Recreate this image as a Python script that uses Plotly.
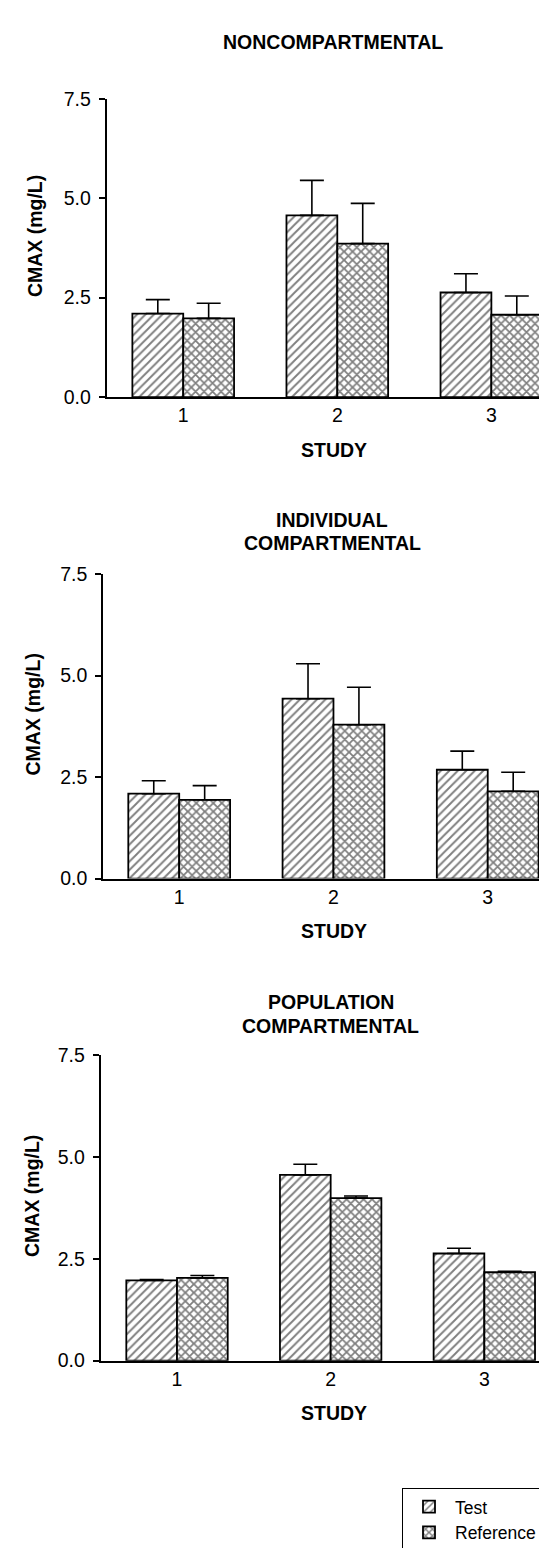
import plotly.graph_objects as go

# ---------------- data ----------------
categories = ["1", "2", "3"]
cat_pos = [1, 2, 3]
y_ticks = [0.0, 2.5, 5.0, 7.5]
y_ticktext = ["0.0", "2.5", "5.0", "7.5"]

panel_titles = [
    "NONCOMPARTMENTAL",
    "INDIVIDUAL<br>COMPARTMENTAL",
    "POPULATION<br>COMPARTMENTAL",
]

nc_test = [2.10, 4.57, 2.63]
nc_test_err = [0.35, 0.88, 0.47]
nc_ref = [1.98, 3.86, 2.07]
nc_ref_err = [0.38, 1.01, 0.47]

ic_test = [2.09, 4.43, 2.68]
ic_test_err = [0.32, 0.86, 0.46]
ic_ref = [1.94, 3.79, 2.15]
ic_ref_err = [0.35, 0.92, 0.47]

pc_test = [1.97, 4.56, 2.63]
pc_test_err = [0.02, 0.26, 0.13]
pc_ref = [2.03, 3.99, 2.17]
pc_ref_err = [0.06, 0.05, 0.02]

series_names = ["Test", "Reference"]

# ---------------- layout helpers (pixel geometry) ----------------
W, H = 547, 1548
FONT = "Liberation Sans, Arial, Helvetica, sans-serif"
BOLD_SIZE = 19.5
TICK_SIZE = 19.5


def fx(px):
    return px / W


def fy(py):
    return 1 - py / H


# per panel: y-axis x, x-axis right end, 7.5 tick y, 0 tick y, x range
geom = [
    dict(x0=98.5, x1=545, ytop=81, ybot=383.5, xr=[0.502, 3.40],
         title_y=[23], study_y=437.5, ytitle_x=27),
    dict(x0=95, x1=547, ytop=563, ybot=872, xr=[0.506, 3.436],
         title_y=[508, 532], study_y=925, ytitle_x=25),
    dict(x0=92.5, x1=547, ytop=1051, ybot=1361, xr=[0.502, 3.46],
         title_y=[997, 1022], study_y=1414, ytitle_x=24),
]

data_sets = [
    (nc_test, nc_test_err, nc_ref, nc_ref_err),
    (ic_test, ic_test_err, ic_ref, ic_ref_err),
    (pc_test, pc_test_err, pc_ref, pc_ref_err),
]

patterns = [
    dict(shape="/", fgcolor="black", bgcolor="white", size=6, solidity=0.32),
    dict(shape="x", fgcolor="black", bgcolor="white", size=6, solidity=0.5),
]

fig = go.Figure()
annotations = []

for i, (g, ds) in enumerate(zip(geom, data_sets)):
    xa = "x" if i == 0 else f"x{i+1}"
    ya = "y" if i == 0 else f"y{i+1}"
    vals = [(ds[0], ds[1]), (ds[2], ds[3])]
    for j, (v, e) in enumerate(vals):
        fig.add_trace(go.Bar(
            x=cat_pos, y=v, name=series_names[j],
            xaxis=xa, yaxis=ya,
            offsetgroup=str(j), legendgroup=series_names[j],
            showlegend=(i == 0),
            marker=dict(color="white", line=dict(color="black", width=1.8),
                        pattern=patterns[j]),
            error_y=dict(type="data", symmetric=False, array=e,
                         arrayminus=[0] * len(e), color="black",
                         thickness=1.6, width=12),
        ))

    xkey = "xaxis" if i == 0 else f"xaxis{i+1}"
    ykey = "yaxis" if i == 0 else f"yaxis{i+1}"
    fig.update_layout(**{
        xkey: dict(domain=[fx(g["x0"]), fx(g["x1"])], anchor=ya,
                   range=g["xr"], tickvals=cat_pos, ticktext=categories,
                   showline=True, linecolor="black", linewidth=1.6,
                   ticks="", showgrid=False, zeroline=False,
                   tickfont=dict(family=FONT, size=TICK_SIZE, color="black")),
        ykey: dict(domain=[fy(g["ybot"]), fy(g["ytop"])], anchor=xa,
                   range=[0, 7.5], tickvals=y_ticks, ticktext=y_ticktext,
                   showline=True, linecolor="black", linewidth=1.6,
                   ticks="outside", ticklen=6, tickwidth=1.5,
                   tickcolor="black", showgrid=False, zeroline=False,
                   ticklabelstandoff=4,
                   tickfont=dict(family=FONT, size=TICK_SIZE, color="black")),
    })

    # panel title
    lines = panel_titles[i].split("<br>")
    for ln, ty in zip(lines, g["title_y"]):
        annotations.append(dict(
            text=f"<b>{ln}</b>", x=fx((g["x0"] + g["x1"]) / 2 + 3), y=fy(ty),
            xref="paper", yref="paper", showarrow=False,
            xanchor="center", yanchor="middle",
            font=dict(family=FONT, size=BOLD_SIZE, color="black")))
    # x title
    annotations.append(dict(
        text="<b>STUDY</b>", x=fx(326), y=fy(g["study_y"]),
        xref="paper", yref="paper", showarrow=False,
        xanchor="center", yanchor="middle",
        font=dict(family=FONT, size=BOLD_SIZE, color="black")))
    # y title
    annotations.append(dict(
        text="<b>CMAX (mg/L)</b>", x=fx(g["ytitle_x"]),
        y=fy((g["ytop"] + g["ybot"]) / 2 - 12), textangle=-90,
        xref="paper", yref="paper", showarrow=False,
        xanchor="center", yanchor="middle",
        font=dict(family=FONT, size=BOLD_SIZE, color="black")))

fig.update_layout(
    width=W, height=H,
    margin=dict(l=0, r=0, t=0, b=0),
    paper_bgcolor="white", plot_bgcolor="white",
    barmode="group", bargap=0.34, bargroupgap=0.0,
    annotations=annotations,
    legend=dict(x=fx(394), y=fy(1490), xanchor="left", yanchor="top",
                bordercolor="black", borderwidth=1, bgcolor="white",
                font=dict(family=FONT, size=17.5, color="black"),
                itemwidth=42, tracegroupgap=0, traceorder="normal"),
    showlegend=True,
)

fig.write_html("out.html")
